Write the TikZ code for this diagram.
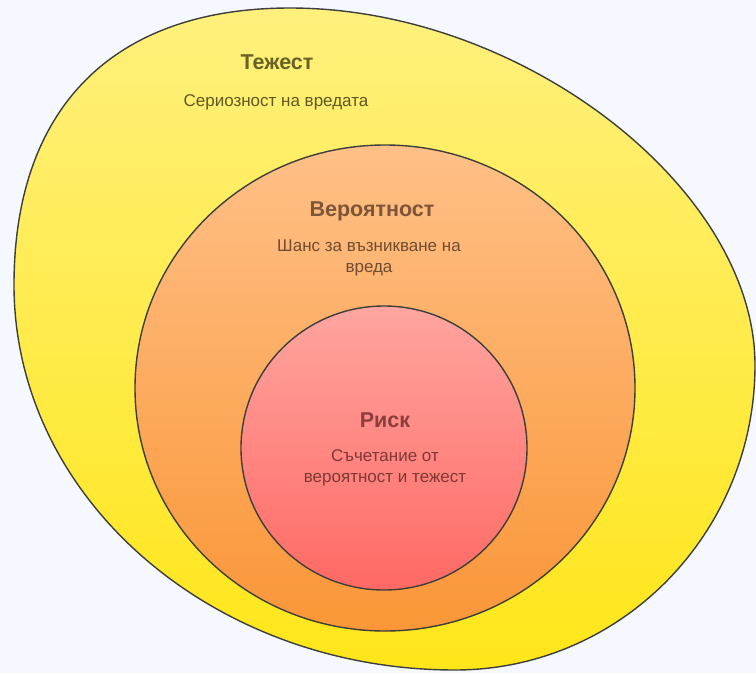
\documentclass[tikz,border=0pt]{standalone}
\usepackage{fontspec}
\setmainfont{Liberation Sans}
\usepackage{tikz}
\usetikzlibrary{positioning}
\definecolor{bgblue}{RGB}{245,248,255}
\definecolor{rimgray}{RGB}{62,62,58}
\definecolor{yellowtop}{RGB}{255,240,125}
\definecolor{yellowbot}{RGB}{255,230,25}
\definecolor{orangetop}{RGB}{255,192,135}
\definecolor{orangebot}{RGB}{250,150,55}
\definecolor{redtop}{RGB}{255,165,160}
\definecolor{redbot}{RGB}{255,105,100}
\definecolor{olivetext}{RGB}{105,98,40}
\definecolor{browntext}{RGB}{125,85,55}
\definecolor{redtext}{RGB}{140,62,60}
\tikzset{
  rim/.style={draw=rimgray, line width=1.4pt},
  title/.style={font=\fontsize{21.5}{24}\selectfont\bfseries, inner sep=0pt},
  body/.style={font=\fontsize{17}{21}\selectfont, align=center, inner sep=0pt}
}

\begin{document}
\begin{tikzpicture}[x=1pt,y=-1pt]
\useasboundingbox[fill=bgblue] (0,0) rectangle (756,673);
% outer ring: egg shaped
\draw[rim, top color=yellowtop, bottom color=yellowbot]
  (290,8) coordinate(Top) .. controls (523,8) and (755,189) .. (755,365) coordinate(Right)
  .. controls (755,533) and (621,670) .. (455,670) coordinate(Bottom)
  .. controls (212,670) and (14,498) .. (14,285) coordinate(Left)
  .. controls (14,108) and (113,8) .. (Top) -- cycle;
% middle ring
\coordinate (mid) at (385,388);
\draw[rim, top color=orangetop, bottom color=orangebot] (mid) ellipse [x radius=250, y radius=243];
% inner disc
\coordinate (core) at (384,448);
\draw[rim, top color=redtop, bottom color=redbot] (core) ellipse [x radius=143, y radius=142];

\node[title, text=olivetext] (tezhest) at (277,62) {Тежест};
\node[body, text=olivetext!90!black] (tezhestTxt) at (276,102) {Сериозност на вредата};
\node[title, text=browntext] (veroyat) at (372,211) {Вероятност};
\node[body, text=browntext!90!black] (veroyatTxt) at (369,258) {Шанс за възникване на\\вреда};
\node[title, text=redtext] (risk) at (385,420) {Риск};
\node[body, text=redtext!90!black] (riskTxt) at (385,468) {Съчетание от\\вероятност и тежест};
\end{tikzpicture}
\end{document}
